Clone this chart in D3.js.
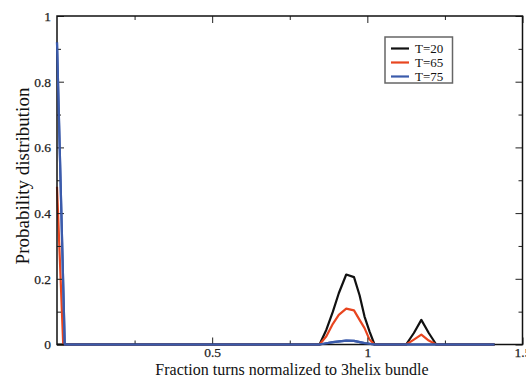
<!DOCTYPE html>
<html><head><meta charset="utf-8">
<script src="https://cdn.jsdelivr.net/npm/d3@7"></script>
<style>body{margin:0;background:#fff}svg{display:block}</style>
</head><body>
<script>
const seriesNames = ["T=20", "T=65", "T=75"];
const seriesColors = ["#111111", "#e8451f", "#3b5bab"];
const xT20 = [0, 0.02, 0.846, 0.868, 0.889, 0.908, 0.932, 0.957, 0.975, 0.991, 1.007, 1.023, 1.125, 1.15, 1.174, 1.198, 1.222, 1.41];
const yT20 = [0, 0, 0, 0.045, 0.10, 0.156, 0.213, 0.205, 0.15, 0.085, 0.04, 0, 0, 0.035, 0.075, 0.035, 0, 0];
const xT65 = [0, 0.02, 0.846, 0.868, 0.889, 0.908, 0.932, 0.957, 0.975, 0.991, 1.007, 1.023, 1.125, 1.15, 1.174, 1.198, 1.222, 1.41];
const yT65 = [0.48, 0, 0, 0.025, 0.063, 0.09, 0.109, 0.104, 0.075, 0.05, 0.015, 0, 0, 0.015, 0.03, 0.012, 0, 0];
const xT75 = [0, 0.025, 0.846, 0.889, 0.932, 0.957, 0.991, 1.023, 1.41];
const yT75 = [0.92, 0, 0, 0.007, 0.012, 0.011, 0.004, 0, 0];
const xTicks = [0.5, 1, 1.5];
const xMinor = [0.25, 0.75, 1.25];
const yTicks = [0, 0.2, 0.4, 0.6, 0.8, 1];
const yMinor = [0.1, 0.3, 0.5, 0.7, 0.9];
const xLabel = "Fraction turns normalized to 3helix bundle";
const yLabel = "Probability distribution";

const W = 526, H = 377;
const L = 57, R = 522.5, T = 16, B = 344.5;
const svg = d3.select("body").append("svg").attr("width", W).attr("height", H);
const x = d3.scaleLinear().domain([0, 1.5]).range([L, R]);
const y = d3.scaleLinear().domain([0, 1]).range([B, T]);
const font = "'Liberation Serif','Times New Roman',serif";

const series = [
  {xs: xT20, ys: yT20}, {xs: xT65, ys: yT65}, {xs: xT75, ys: yT75}
];
const line = d3.line().x(d => x(d[0])).y(d => y(d[1]));
series.forEach((s, i) => {
  const pts = s.xs.map((v, j) => [v, s.ys[j]]);
  svg.append("path").datum(pts).attr("d", line)
    .attr("fill", "none").attr("stroke", seriesColors[i])
    .attr("stroke-width", 2.2).attr("stroke-linejoin", "round");
});

// axes (ticks inward)
const gB = svg.append("g").attr("transform", `translate(0,${B})`)
  .call(d3.axisBottom(x).tickValues(xTicks).tickSize(-7).tickPadding(3).tickFormat(d3.format("")));
const gBm = svg.append("g").attr("transform", `translate(0,${B})`)
  .call(d3.axisBottom(x).tickValues(xMinor).tickSize(-4).tickFormat(""));
const gT = svg.append("g").attr("transform", `translate(0,${T})`)
  .call(d3.axisTop(x).tickValues(xTicks).tickSize(-7).tickFormat(""));
const gTm = svg.append("g").attr("transform", `translate(0,${T})`)
  .call(d3.axisTop(x).tickValues(xMinor).tickSize(-4).tickFormat(""));
const gL = svg.append("g").attr("transform", `translate(${L},0)`)
  .call(d3.axisLeft(y).tickValues(yTicks).tickSize(-7).tickPadding(6).tickFormat(d3.format("")));
const gLm = svg.append("g").attr("transform", `translate(${L},0)`)
  .call(d3.axisLeft(y).tickValues(yMinor).tickSize(-4).tickFormat(""));
const gR = svg.append("g").attr("transform", `translate(${R},0)`)
  .call(d3.axisRight(y).tickValues(yTicks).tickSize(-7).tickFormat(""));
const gRm = svg.append("g").attr("transform", `translate(${R},0)`)
  .call(d3.axisRight(y).tickValues(yMinor).tickSize(-4).tickFormat(""));
[gB, gBm, gT, gTm, gL, gLm, gR, gRm].forEach(g => {
  g.select(".domain").remove();
  g.selectAll("line").attr("stroke", "#222").attr("stroke-width", 1);
  g.selectAll("text").attr("font-family", font).attr("font-size", 13.5)
    .attr("fill", "#222").attr("stroke", "#222").attr("stroke-width", 0.25);
});
svg.append("rect").attr("x", L).attr("y", T).attr("width", R - L).attr("height", B - T)
  .attr("fill", "none").attr("stroke", "#111").attr("stroke-width", 1.5);
// redraw blue over bottom axis
svg.append("path").datum(xT75.map((v, j) => [v, yT75[j]])).attr("d", line)
  .attr("fill", "none").attr("stroke", seriesColors[2]).attr("stroke-width", 2.2).attr("stroke-linejoin", "round");

// axis titles
svg.append("text").attr("x", 292).attr("y", 375).attr("text-anchor", "middle")
  .attr("font-family", font).attr("font-size", 16).attr("fill", "#111").text(xLabel);
svg.append("text").attr("transform", "translate(29,176) rotate(-90)").attr("text-anchor", "middle")
  .attr("font-family", font).attr("font-size", 19).attr("fill", "#111").text(yLabel);

// legend
const lg = svg.append("g");
lg.append("rect").attr("x", 385).attr("y", 37).attr("width", 67.5).attr("height", 46)
  .attr("fill", "#fff").attr("stroke", "#666").attr("stroke-width", 1.5);
seriesNames.forEach((n, i) => {
  const yy = 48.5 + i * 14;
  lg.append("line").attr("x1", 391).attr("x2", 409).attr("y1", yy).attr("y2", yy)
    .attr("stroke", seriesColors[i]).attr("stroke-width", 2.2);
  lg.append("text").attr("x", 415).attr("y", yy + 4.5).attr("font-family", font)
    .attr("font-size", 13).attr("fill", "#111").text(n);
});
</script>
</body></html>
